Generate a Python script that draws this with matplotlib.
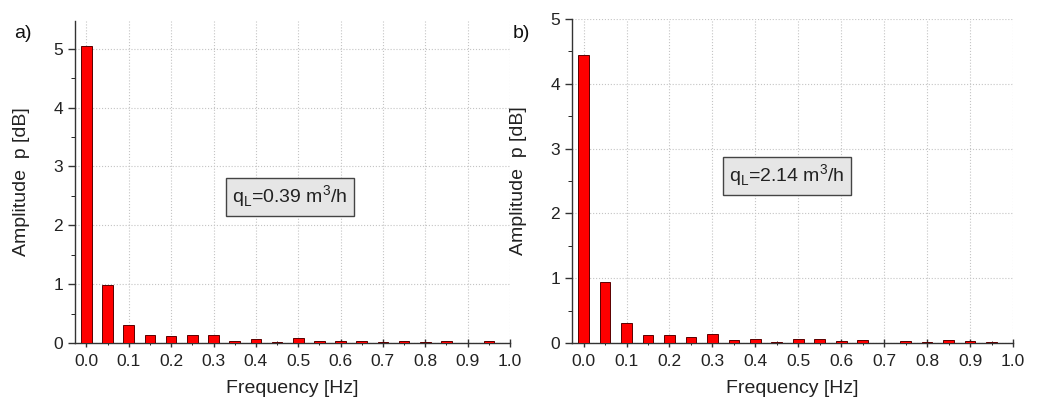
import numpy as np
import matplotlib
matplotlib.use("Agg")
import matplotlib.pyplot as plt
from matplotlib.ticker import MultipleLocator

plt.rcParams['font.family'] = ['Liberation Sans', 'DejaVu Sans']

freq = [0.0, 0.05, 0.1, 0.15, 0.2, 0.25, 0.3, 0.35, 0.4, 0.45,
        0.5, 0.55, 0.6, 0.65, 0.7, 0.75, 0.8, 0.85, 0.9, 0.95]
amp_a = [5.05, 0.98, 0.30, 0.14, 0.12, 0.13, 0.14, 0.03, 0.07, 0.02,
         0.09, 0.04, 0.04, 0.03, 0.025, 0.04, 0.02, 0.04, 0.0, 0.03]
amp_b = [4.45, 0.94, 0.31, 0.12, 0.12, 0.10, 0.145, 0.04, 0.06, 0.015,
         0.06, 0.06, 0.035, 0.04, 0.005, 0.035, 0.015, 0.04, 0.03, 0.01]
panel_labels = ["a)", "b)"]
flow_labels = ["q$_\\mathregular{L}$=0.39 m$^\\mathregular{3}$/h",
               "q$_\\mathregular{L}$=2.14 m$^\\mathregular{3}$/h"]
xticks = [0.0, 0.1, 0.2, 0.3, 0.4, 0.5, 0.6, 0.7, 0.8, 0.9, 1.0]

W, H = 1037, 401
fig = plt.figure(figsize=(W / 100, H / 100), dpi=100)

def px_axes(l, r, t, b):
    return fig.add_axes([l / W, 1 - b / H, (r - l) / W, (b - t) / H])

axes_px = [(75, 510, 21, 343), (572, 1013, 19, 343)]
ylims = [5.47, 5.0]
datas = [amp_a, amp_b]
box_pos = [(290, 197), (787, 176)]
plabel_pos = [(14, 33), (513, 33)]
ylabel_x = [30, 527]

for i in range(2):
    l, r, t, b = axes_px[i]
    ax = px_axes(l, r, t, b)
    ax.bar(freq, datas[i], width=0.025, color='#ff0000', edgecolor='#5a0000',
           linewidth=0.7, zorder=3)
    ax.set_xlim(-0.027, 1.0)
    ax.set_ylim(0, ylims[i])
    ax.set_xticks(xticks)
    ax.set_xticklabels([f"{v:.1f}" for v in xticks])
    ax.set_yticks([0, 1, 2, 3, 4, 5])
    ax.xaxis.set_minor_locator(MultipleLocator(0.05))
    ax.yaxis.set_minor_locator(MultipleLocator(0.5))
    for s in ['top', 'right']:
        ax.spines[s].set_visible(False)
    for s in ['left', 'bottom']:
        ax.spines[s].set_color('#333333')
        ax.spines[s].set_linewidth(1.0)
    ax.tick_params(axis='both', which='major', labelsize=12.5, colors='#333333',
                   labelcolor='#222222', length=5, width=1.0)
    ax.tick_params(axis='x', which='major', direction='inout', length=6, pad=5)
    ax.tick_params(axis='x', which='minor', direction='inout', length=3)
    ax.tick_params(axis='y', which='minor', direction='out', length=3)
    ax.grid(True, which='major', axis='both', color='#c4c4c4', linestyle=':',
            linewidth=0.8, zorder=0)
    ax.set_axisbelow(True)
    ax.set_xlabel("Frequency [Hz]", fontsize=14, color='#222222', labelpad=8)
    ax.set_ylabel("Amplitude  p [dB]", fontsize=14, color='#222222')
    ax.yaxis.set_label_coords((ylabel_x[i] - l) / (r - l), 0.5)
    bx, by = box_pos[i]
    fig.text(bx / W, 1 - by / H, flow_labels[i], fontsize=14, ha='center',
             va='center', color='#222222',
             bbox=dict(boxstyle='square,pad=0.3', facecolor='#e6e6e6',
                       edgecolor='#444444', linewidth=1.0))
    px, py = plabel_pos[i]
    fig.text(px / W, 1 - py / H, panel_labels[i], fontsize=14, ha='left',
             va='center', color='#111111')

fig.savefig("out.png", dpi=100)
